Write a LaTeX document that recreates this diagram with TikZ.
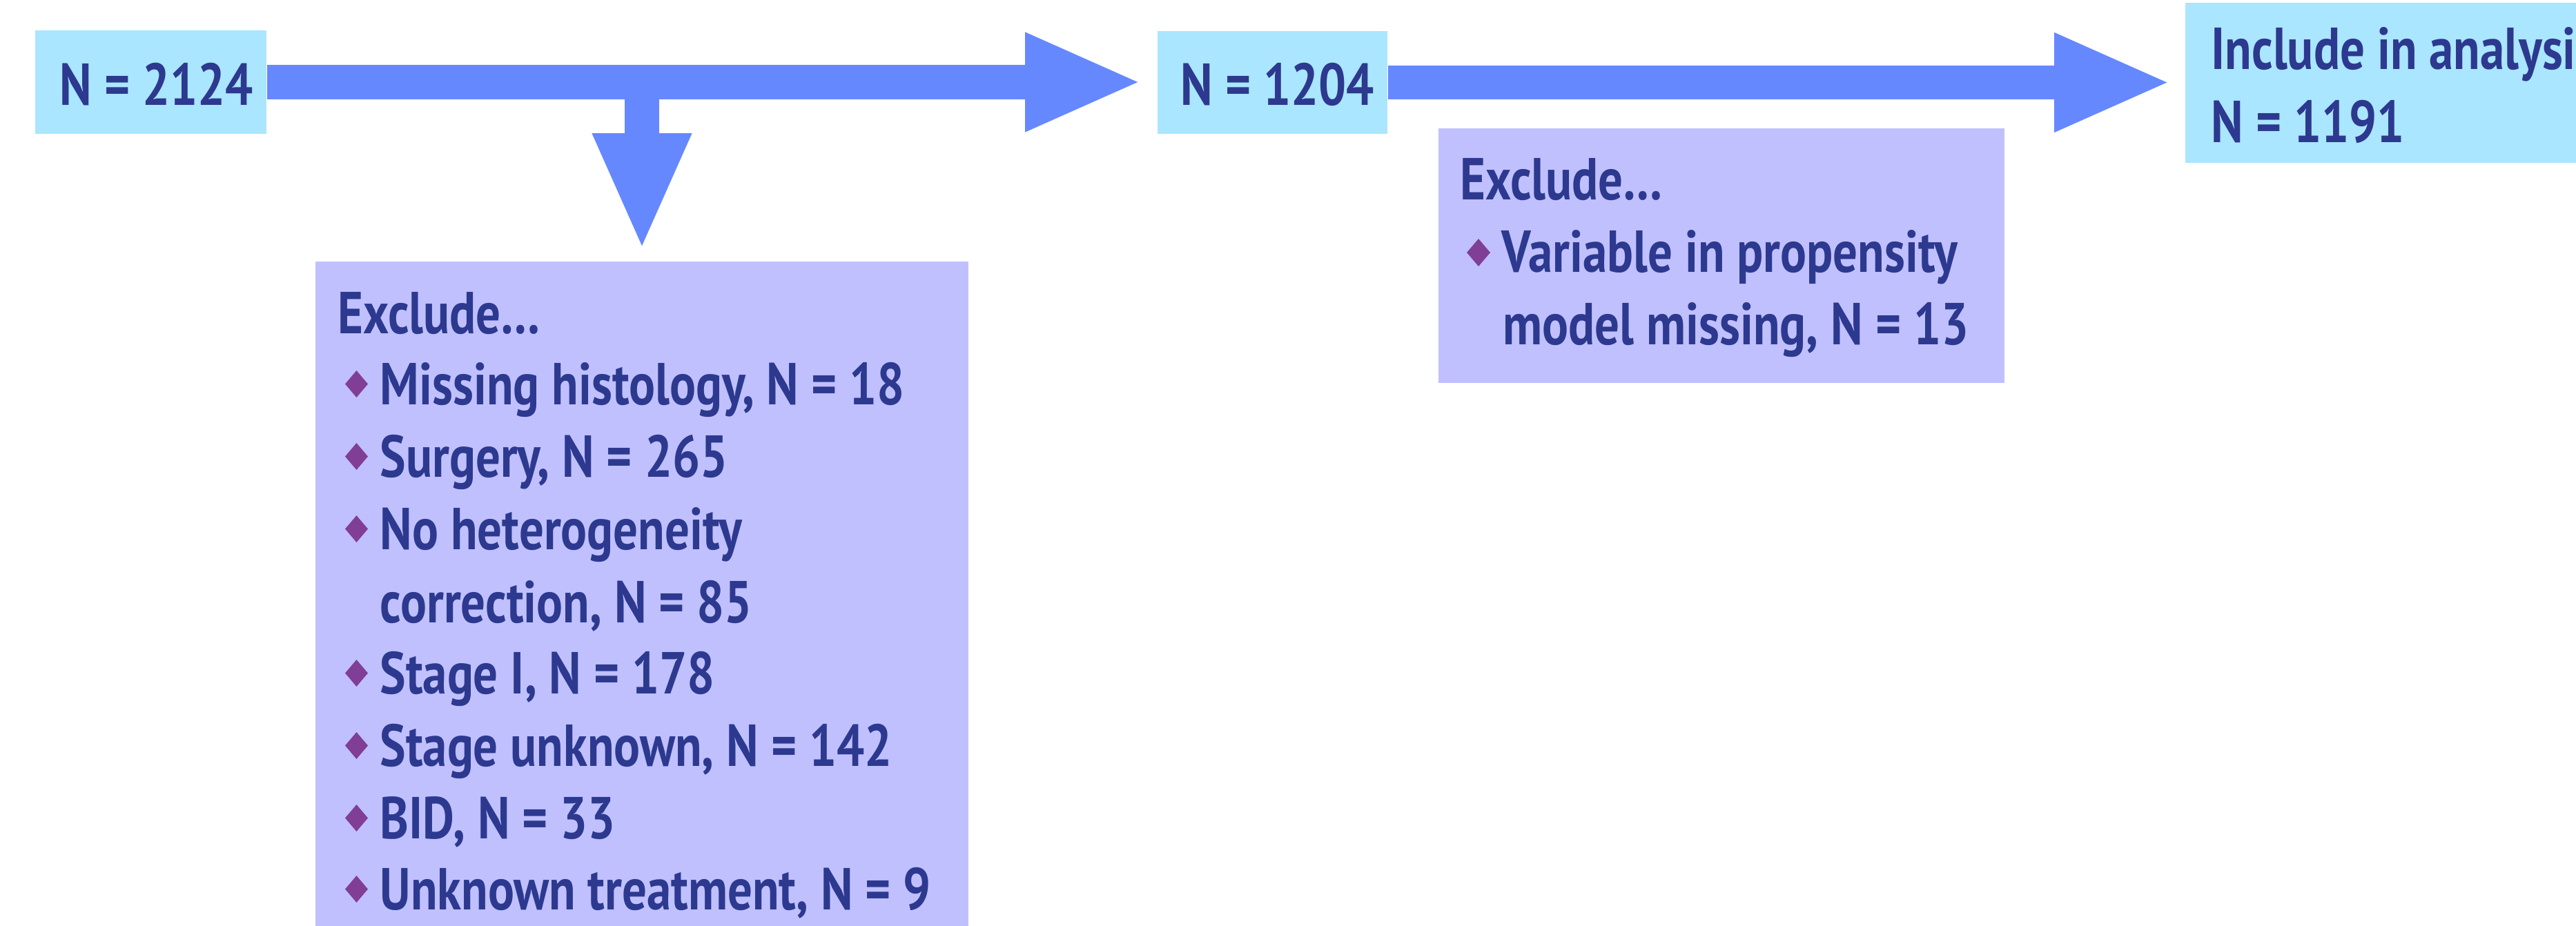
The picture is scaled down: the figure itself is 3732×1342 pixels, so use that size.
\documentclass[tikz,border=0pt]{standalone}
\usepackage{fontspec}
\setmainfont{PT Sans}[FakeStretch=0.825]
\usetikzlibrary{arrows.meta,calc,fit}
\definecolor{navy}{RGB}{44,57,143}
\definecolor{cyanbox}{RGB}{170,230,255}
\definecolor{arrowc}{RGB}{102,136,255}
\definecolor{exbox}{RGB}{192,192,255}
\definecolor{bulc}{RGB}{128,62,150}
\begin{document}
\begin{tikzpicture}[x=0.01cm,y=-0.01cm,
  cbox/.style={fill=cyanbox,draw=none,inner sep=0pt,rectangle},
  ebox/.style={fill=exbox,draw=none,inner sep=0pt,rectangle},
  txt/.style={anchor=base west,inner sep=0pt,text=navy,font=\fontsize{24.4pt}{29pt}\selectfont\bfseries},
  blockarrow/.style={draw=arrowc,line cap=butt,line width=13.94pt,
    -{Triangle[width=41.26pt,length=46.38pt,line width=0pt,fill=arrowc]}},
  bul/.style={fill=bulc}]
\useasboundingbox (0,0) rectangle (3732,1342);
\clip (0,0) rectangle (3732,1342);
% boxes
\node[cbox,fit={(51,44) (386,194)}] (a) {};
\node[cbox,fit={(1677,45) (2010,194)}] (b) {};
\node[cbox,fit={(3166,4) (3900,236)}] (c) {};
\node[ebox,fit={(457,379) (1403,1400)}] (ex1) {};
\node[ebox,fit={(2084,186) (2904,555)}] (ex2) {};
% connectors
\coordinate (split) at (a.east -| ex1.north);
\draw[blockarrow] (split) -- ($(ex1.north)+(0,-22)$);
\draw[blockarrow] (a.east) -- ($(a.east -| b.west)+(-28,0)$);
\draw[blockarrow] (b.east) -- ($(b.east -| c.west)+(-26,0)$);
% texts in top boxes
\node[txt] (ta) at (86,152) {N = 2124};
\node[txt] (tb) at (1710,152) {N = 1204};
\node[txt] (tc1) at (3203,100) {Include in analysis};
\node[txt] (tc2) at (3203,206) {N = 1191};
% exclude box 1
\node[txt] (e1h) at (489,483) {Exclude…};
\node[txt] (e1a) at (550,586) {Missing histology, N = 18};
\node[txt] (e1b) at (550,691) {Surgery, N = 265};
\node[txt] (e1c) at (550,796) {No heterogeneity};
\node[txt] (e1d) at (550,902) {correction, N = 85};
\node[txt] (e1e) at (550,1005) {Stage I, N = 178};
\node[txt] (e1f) at (550,1110) {Stage unknown, N = 142};
\node[txt] (e1g) at (550,1215) {BID, N = 33};
\node[txt] (e1h2) at (550,1318) {Unknown treatment, N = 9};
\foreach \yy in {586,691,796,1005,1110,1215,1318}
  \fill[bul] (516.5,\yy-49) -- (533,\yy-29.5) -- (516.5,\yy-10) -- (500,\yy-29.5) -- cycle;
% exclude box 2
\node[txt] (e2h) at (2115,289) {Exclude…};
\node[txt] (e2a) at (2175,394) {Variable in propensity};
\node[txt] (e2b) at (2177,499) {model missing, N = 13};
\fill[bul] (2142,394-48) -- (2159,394-28) -- (2142,394-8) -- (2125,394-28) -- cycle;
\end{tikzpicture}
\end{document}
